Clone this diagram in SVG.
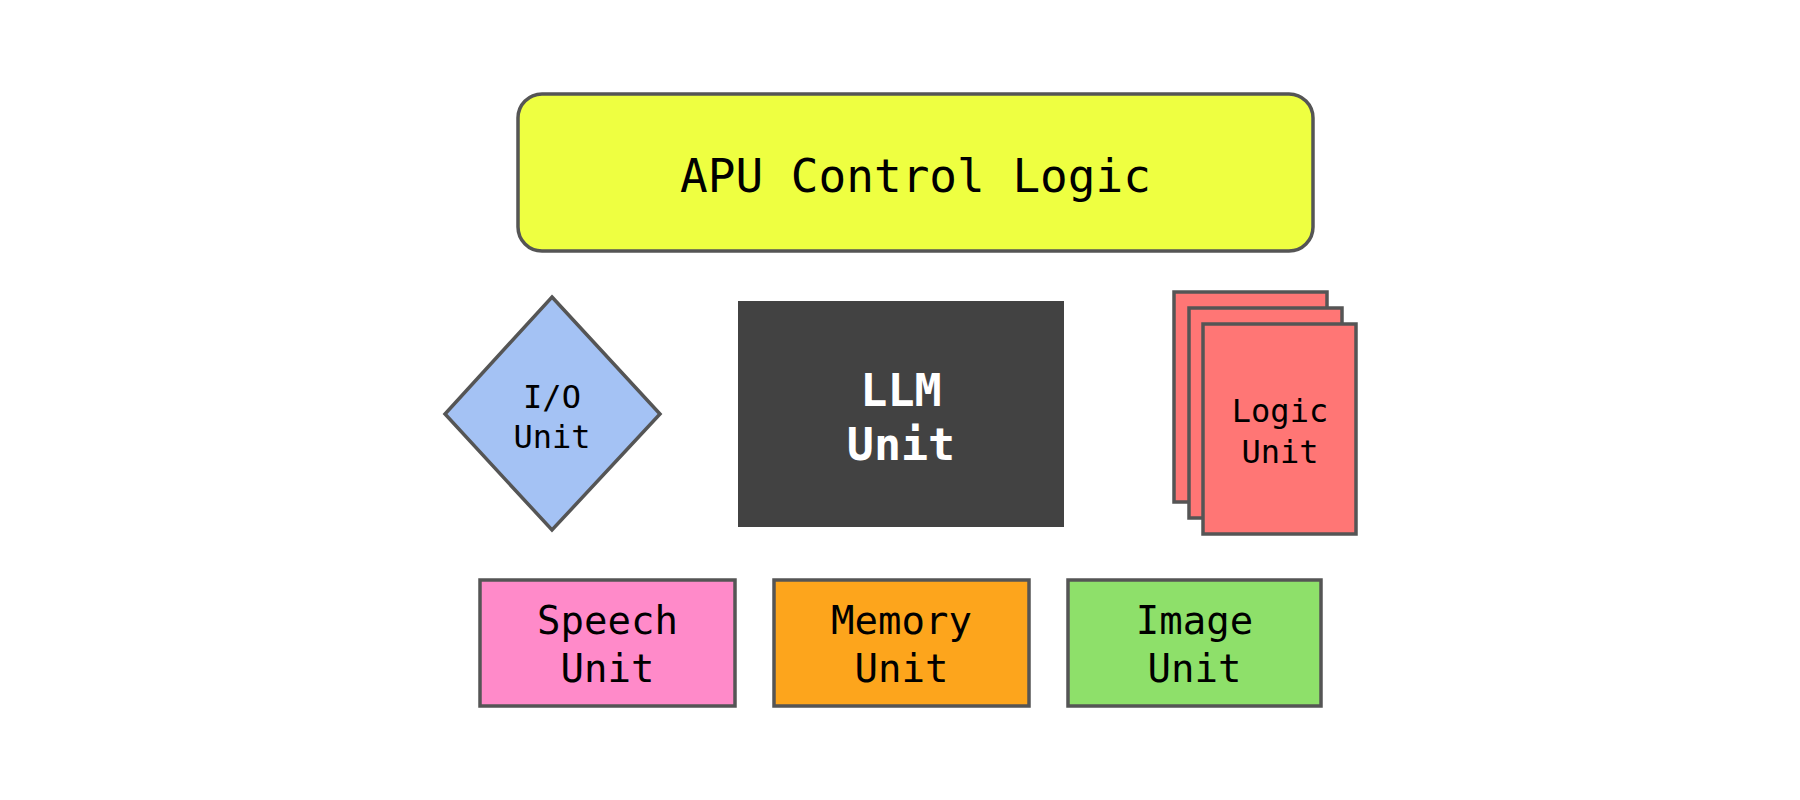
<svg xmlns="http://www.w3.org/2000/svg" width="1800" height="800" viewBox="0 0 1800 800">
<style>
.b{stroke:#555;stroke-width:3.5}
.t{font-family:"DejaVu Sans Mono","Liberation Mono",monospace;fill:#000;text-anchor:middle}
</style>
<rect width="1800" height="800" fill="#fff"/>
<g id="connectors"></g>
<g id="apu">
<rect class="b" x="518" y="94" width="795" height="157" rx="24" fill="#eeff41"/>
<text class="t" x="915.5" y="192" font-size="46">APU Control Logic</text>
</g>
<g id="io">
<polygon class="b" points="552,297 660,414 552,530 445,414" fill="#a4c2f4"/>
<text class="t" x="552" y="408" font-size="32">I/O</text>
<text class="t" x="552" y="448" font-size="32">Unit</text>
</g>
<g id="llm">
<rect x="738" y="301" width="326" height="226" fill="#424242"/>
<text class="t" x="901" y="406" font-size="45" font-weight="bold" fill="#fff" style="fill:#fff">LLM</text>
<text class="t" x="901" y="460" font-size="45" font-weight="bold" style="fill:#fff">Unit</text>
</g>
<g id="logic">
<rect class="b" x="1174" y="292" width="153" height="210" fill="#ff7675"/>
<rect class="b" x="1189" y="308" width="153" height="210" fill="#ff7675"/>
<rect class="b" x="1203" y="324" width="153" height="210" fill="#ff7675"/>
<text class="t" x="1280" y="422" font-size="32">Logic</text>
<text class="t" x="1280" y="463" font-size="32">Unit</text>
</g>
<g id="speech">
<rect class="b" x="480" y="580" width="255" height="126" fill="#ff8ac9"/>
<text class="t" x="607.5" y="634" font-size="39">Speech</text>
<text class="t" x="607.5" y="682" font-size="39">Unit</text>
</g>
<g id="memory">
<rect class="b" x="774" y="580" width="255" height="126" fill="#fda51c"/>
<text class="t" x="901.5" y="634" font-size="39">Memory</text>
<text class="t" x="901.5" y="682" font-size="39">Unit</text>
</g>
<g id="image">
<rect class="b" x="1068" y="580" width="253" height="126" fill="#8ee06a"/>
<text class="t" x="1194.5" y="634" font-size="39">Image</text>
<text class="t" x="1194.5" y="682" font-size="39">Unit</text>
</g>
</svg>
